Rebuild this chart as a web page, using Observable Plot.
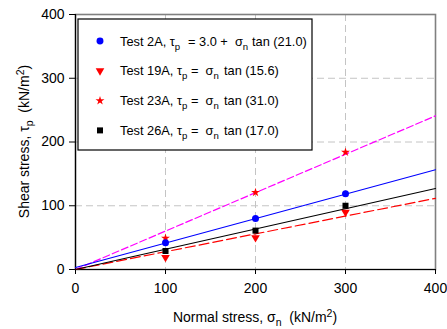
<!DOCTYPE html>
<html>
<head>
<meta charset="utf-8">
<script src="https://cdn.jsdelivr.net/npm/d3@7"></script>
<script src="https://cdn.jsdelivr.net/npm/@observablehq/plot@0.6"></script>
<style>
  html, body { margin: 0; padding: 0; background: #fff; }
  svg text { white-space: pre; }
</style>
</head>
<body>
<div id="chart"></div>
<script>
// ---- data ----
const xTicks = [0, 100, 200, 300, 400];
const yTicks = [0, 100, 200, 300, 400];
const gridValues = [100, 200, 300];
const sigmaN = [100, 200, 300];
const tau2A = [42, 80, 119];
const tau19A = [19, 50, 90];
const tau23A = [49, 121, 184];
const tau26A = [29, 61, 100];
const fitSigma = [0, 400];
const fit2A = [3, 156.5];
const fit19A = [0, 111.7];
const fit23A = [0, 241];
const fit26A = [0, 127];
const legendNames = ["Test 2A", "Test 19A", "Test 23A", "Test 26A"];
const legendMid = ["= 3.0 +  σ", "=  σ", "=  σ", "=  σ"];
const legendAngles = ["21.0", "15.6", "31.0", "17.0"];

const pts = (ys) => sigmaN.map((x, i) => ({x, y: ys[i]}));
const fit = (ys) => fitSigma.map((x, i) => ({x, y: ys[i]}));

const FONT = "'Liberation Sans', Arial, sans-serif";

const chart = Plot.plot({
  width: 447,
  height: 329,
  marginLeft: 75,
  marginRight: 12,
  marginTop: 14,
  marginBottom: 60,
  style: {fontFamily: FONT, fontSize: "14px", color: "#000", background: "#fff"},
  x: {domain: [0, 400]},
  y: {domain: [0, 400]},
  marks: [
    Plot.ruleX(gridValues, {stroke: "#c4c4c4", strokeDasharray: "7,4", strokeWidth: 1}),
    Plot.ruleY(gridValues, {stroke: "#c4c4c4", strokeDasharray: "7,4", strokeWidth: 1}),
    Plot.frame({stroke: "#808080", strokeWidth: 1.6}),
    Plot.axisX({ticks: xTicks, tickSize: 5, tickPadding: 9, label: null, fontSize: 14}),
    Plot.axisY({ticks: yTicks, tickSize: 6, tickPadding: 5, label: null, fontSize: 14}),
    Plot.ruleX([0], {stroke: "#000", strokeWidth: 1.2}),
    Plot.ruleY([0], {stroke: "#000", strokeWidth: 1.2}),
    Plot.line(fit(fit23A), {x: "x", y: "y", stroke: "#ff00ff", strokeWidth: 1.2, strokeDasharray: "7,3"}),
    Plot.line(fit(fit19A), {x: "x", y: "y", stroke: "#ff0000", strokeWidth: 1.2, strokeDasharray: "10,4"}),
    Plot.line(fit(fit26A), {x: "x", y: "y", stroke: "#000", strokeWidth: 1.1}),
    Plot.line(fit(fit2A), {x: "x", y: "y", stroke: "#0000ff", strokeWidth: 1.1}),
    Plot.dot(pts(tau23A), {x: "x", y: "y", symbol: "star", r: 2.8, fill: "#ff0000", stroke: "none"}),
    Plot.dot(pts(tau19A), {x: "x", y: "y", symbol: "triangle", rotate: 180, r: 3.2, fill: "#ff0000", stroke: "none"}),
    Plot.dot(pts(tau26A), {x: "x", y: "y", symbol: "square", r: 3.4, fill: "#000", stroke: "none"}),
    Plot.dot(pts(tau2A), {x: "x", y: "y", symbol: "circle", r: 3.5, fill: "#0000ff", stroke: "none"})
  ]
});

document.getElementById("chart").appendChild(chart);

const svg = d3.select(chart);

function rich(sel, parts, baseSize) {
  let shift = 0;
  parts.forEach(([t, k]) => {
    const target = k === "sub" ? 4 : k === "sup" ? -5 : 0;
    const ts = sel.append("tspan").text(t).attr("dy", target - shift);
    if (k !== "n") ts.attr("font-size", baseSize * 0.75);
    shift = target;
  });
}

// Axis titles
const xt = svg.append("text")
  .attr("x", 255).attr("y", 322)
  .attr("text-anchor", "middle")
  .attr("font-family", FONT).attr("font-size", 14).attr("fill", "#000");
rich(xt, [["Normal stress, σ", "n"], ["n", "sub"], ["  (kN/m", "n"], ["2", "sup"], [")", "n"]], 14);

const yt = svg.append("text")
  .attr("transform", "translate(29,141.5) rotate(-90)")
  .attr("text-anchor", "middle")
  .attr("font-family", FONT).attr("font-size", 14).attr("fill", "#000");
rich(yt, [["Shear stress, τ", "n"], ["p", "sub"], ["  (kN/m", "n"], ["2", "sup"], [")", "n"]], 14);

// Legend
const lg = svg.append("g");
lg.append("rect").attr("x", 78).attr("y", 19).attr("width", 234).attr("height", 131)
  .attr("fill", "#fff").attr("stroke", "#000").attr("stroke-width", 1.2);
const symCol = [
  {sym: d3.symbolCircle, fill: "#0000ff", size: 38, rot: 0},
  {sym: d3.symbolTriangle, fill: "#ff0000", size: 32, rot: 180},
  {sym: d3.symbolStar, fill: "#ff0000", size: 25, rot: 0},
  {sym: d3.symbolSquare, fill: "#000", size: 36, rot: 0}
];
const LS = 12.8;
legendNames.forEach((name, i) => {
  const cy = 41 + i * 29.8;
  const s = symCol[i];
  lg.append("path").attr("d", d3.symbol(s.sym, s.size)())
    .attr("transform", `translate(100,${cy}) rotate(${s.rot})`)
    .attr("fill", s.fill);
  const seg = (x) => lg.append("text").attr("x", x).attr("y", cy + 4.5)
    .attr("text-anchor", "start")
    .attr("font-family", FONT).attr("font-size", LS).attr("fill", "#000");
  rich(seg(120), [[name + ", τ", "n"], ["p", "sub"]], LS);
  rich(seg(i === 0 ? 188 : 191), [[legendMid[i], "n"], ["n", "sub"]], LS);
  rich(seg(i === 0 ? 252 : 224), [["tan (" + legendAngles[i] + ")", "n"]], LS);
});
</script>
</body>
</html>
